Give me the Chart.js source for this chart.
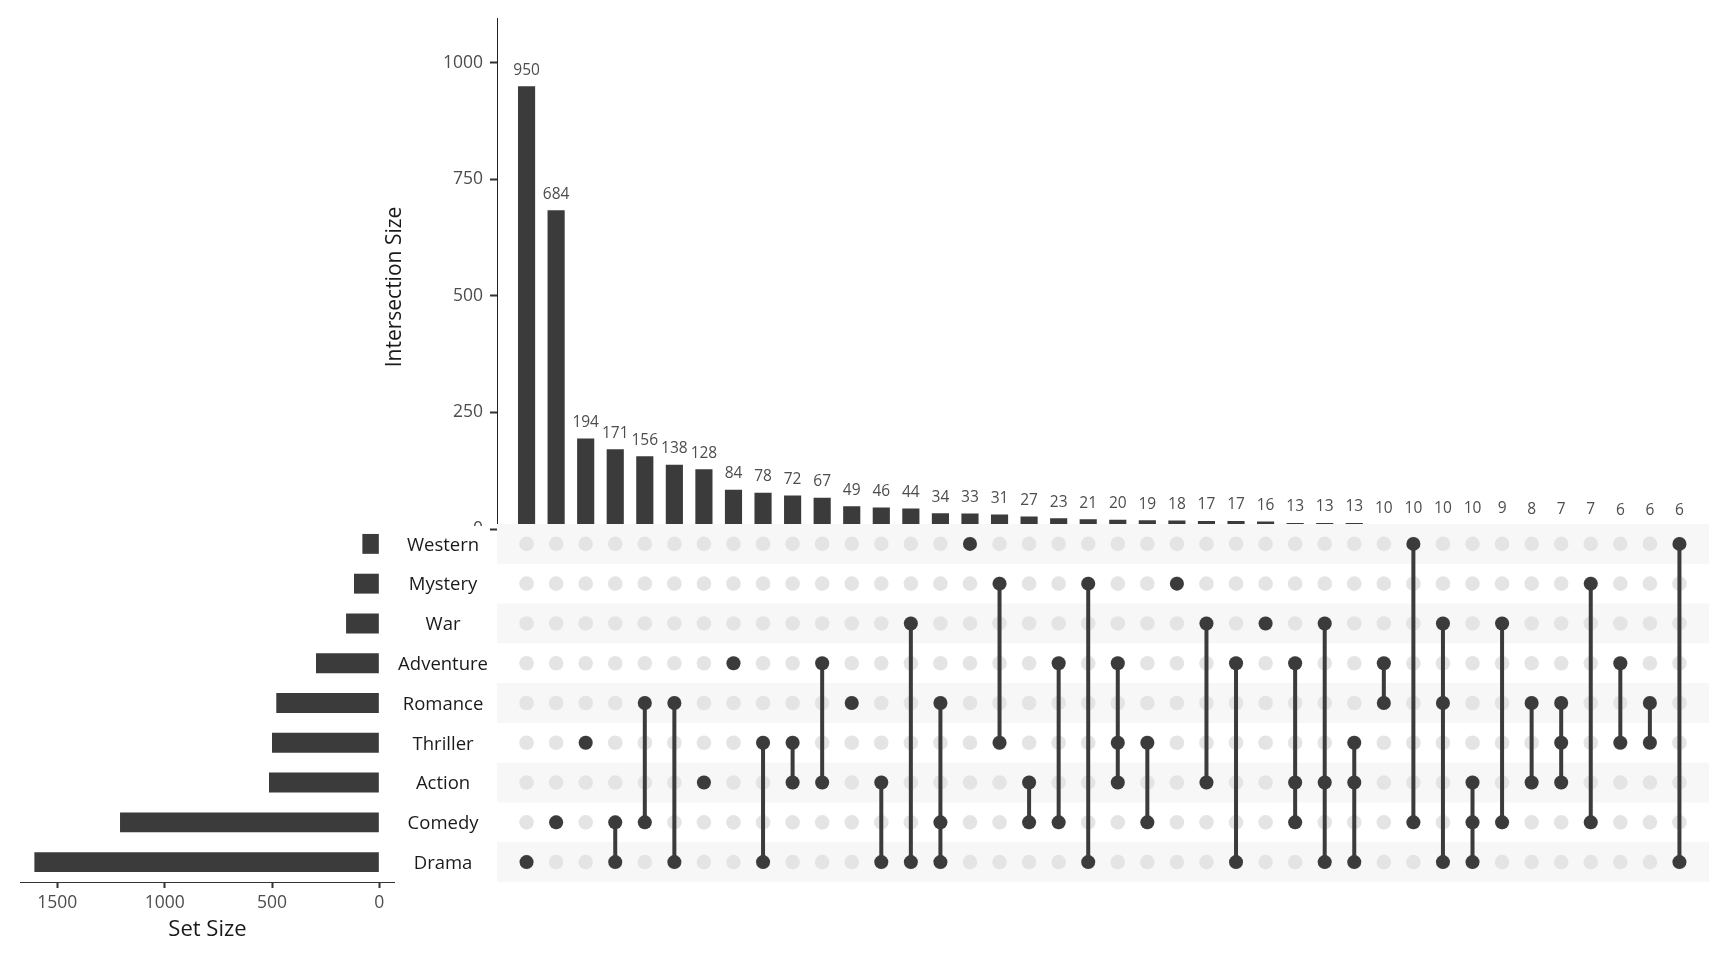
<!DOCTYPE html>
<html lang="en">

<head>
    <meta charset="UTF-8">
    <title>UpSet | Movie genres</title>
    <script src="https://cdn.jsdelivr.net/npm/chart.js"></script>
    <style>
        body {
            margin: 0;
            background: #fff;
            width: 1728px;
            height: 960px;
            position: relative;
            overflow: hidden;
        }

        canvas {
            position: absolute;
        }

        #graficoSets {
            left: 0;
            top: 524px;
        }

        #graficoBarras {
            left: 380px;
            top: 0;
        }

        #graficoMatriz {
            left: 380px;
            top: 524px;
        }
    </style>
</head>

<body>
    <canvas id="graficoSets" width="395" height="436"></canvas>
    <canvas id="graficoBarras" width="1348" height="540"></canvas>
    <canvas id="graficoMatriz" width="1348" height="360"></canvas>
</body>

<script>
    // sets, top to bottom
    const sets = ['Western', 'Mystery', 'War', 'Adventure', 'Romance', 'Thriller', 'Action', 'Comedy', 'Drama'];
    const setSizes = [79, 118, 155, 295, 480, 500, 514, 1208, 1607];

    // intersections, left to right
    const intersectionSizes = [950, 684, 194, 171, 156, 138, 128, 84, 78, 72, 67, 49, 46, 44, 34, 33, 31, 27, 23, 21,
        20, 19, 18, 17, 17, 16, 13, 13, 13, 10, 10, 10, 10, 9, 8, 7, 7, 6, 6, 6];
    const intersectionSets = [
        ['Drama'], ['Comedy'], ['Thriller'], ['Comedy', 'Drama'], ['Romance', 'Comedy'],
        ['Romance', 'Drama'], ['Action'], ['Adventure'], ['Thriller', 'Drama'], ['Thriller', 'Action'],
        ['Adventure', 'Action'], ['Romance'], ['Action', 'Drama'], ['War', 'Drama'], ['Romance', 'Comedy', 'Drama'],
        ['Western'], ['Mystery', 'Thriller'], ['Action', 'Comedy'], ['Adventure', 'Comedy'], ['Mystery', 'Drama'],
        ['Adventure', 'Thriller', 'Action'], ['Thriller', 'Comedy'], ['Mystery'], ['War', 'Action'], ['Adventure', 'Drama'],
        ['War'], ['Adventure', 'Action', 'Comedy'], ['War', 'Action', 'Drama'], ['Thriller', 'Action', 'Drama'], ['Adventure', 'Romance'],
        ['Western', 'Comedy'], ['War', 'Romance', 'Drama'], ['Action', 'Comedy', 'Drama'], ['War', 'Comedy'], ['Romance', 'Action'],
        ['Romance', 'Thriller', 'Action'], ['Mystery', 'Comedy'], ['Adventure', 'Thriller'], ['Romance', 'Thriller'], ['Western', 'Drama']
    ];

    const intersectionTicks = [0, 250, 500, 750, 1000];
    const setSizeTicks = [0, 500, 1000, 1500];

    const escuro = '#3b3b3b';
    const fonte = 'Open Sans';

    // numbers above the intersection bars
    const rotuloBarras = {
        id: 'rotuloBarras',
        afterDatasetsDraw(chart) {
            const ctx = chart.ctx;
            ctx.save();
            ctx.font = '15.5px "' + fonte + '"';
            ctx.fillStyle = '#4d4d4d';
            ctx.textAlign = 'center';
            ctx.textBaseline = 'middle';
            chart.getDatasetMeta(0).data.forEach((bar, i) => {
                ctx.fillText(intersectionSizes[i], bar.x, bar.y - 16);
            });
            ctx.restore();
        }
    };

    const tituloY = {
        id: 'tituloY',
        afterDraw(chart) {
            const ctx = chart.ctx;
            ctx.save();
            ctx.translate(15, 287);
            ctx.rotate(-Math.PI / 2);
            ctx.font = '21px "' + fonte + '"';
            ctx.fillStyle = '#1a1a1a';
            ctx.textAlign = 'center';
            ctx.textBaseline = 'middle';
            ctx.fillText('Intersection Size', 0, 0);
            ctx.restore();
        }
    };

    // striped rows behind the matrix
    const faixas = {
        id: 'faixas',
        beforeDraw(chart) {
            // the matrix panel hides the lower half of the "0" label
            const ctx = chart.ctx;
            ctx.save();
            ctx.fillStyle = '#fff';
            ctx.fillRect(60, 2, 49, 16);
            ctx.restore();
        },
        beforeDatasetsDraw(chart) {
            const { ctx, chartArea, scales: { y } } = chart;
            const h = y.getPixelForValue(1) - y.getPixelForValue(0);
            ctx.save();
            ctx.fillStyle = '#f7f7f7';
            sets.forEach((s, i) => {
                if (i % 2 === 0) {
                    const c = y.getPixelForValue(i);
                    ctx.fillRect(chartArea.left, c - h / 2, chartArea.right - chartArea.left, h);
                }
            });
            ctx.restore();
        }
    };

    const semPadding = (s) => {
        s.paddingTop = 0;
        s.paddingBottom = 0;
        s.paddingLeft = 0;
        s.paddingRight = 0;
    };

    const semVirgula = (v) => String(v);

    // intersection size bars
    new Chart(document.getElementById('graficoBarras'), {
        type: 'bar',
        data: {
            datasets: [{
                data: intersectionSizes.map((v, i) => ({ x: i + 1, y: v })),
                backgroundColor: escuro,
                barPercentage: 0.58,
                categoryPercentage: 1
            }]
        },
        options: {
            responsive: false,
            animation: false,
            layout: { autoPadding: false, padding: { left: 0, right: 19, top: 18.7, bottom: 11 } },
            plugins: { legend: { display: false }, tooltip: { enabled: false } },
            scales: {
                x: { type: 'linear', min: 0, max: 41, offset: false, display: false },
                y: {
                    min: 0,
                    max: 1095,
                    afterBuildTicks: (s) => { s.ticks = intersectionTicks.map(v => ({ value: v })); },
                    afterFit: (s) => { s.width = 117; semPadding(s); },
                    grid: { display: true, drawOnChartArea: false, drawTicks: true, tickLength: 7, tickWidth: 2, tickColor: '#333' },
                    border: { display: true, color: '#222', width: 1 },
                    ticks: { font: { family: fonte, size: 17.5 }, color: '#4d4d4d', padding: 7, callback: semVirgula }
                }
            }
        },
        plugins: [rotuloBarras, tituloY]
    });

    // membership matrix
    const ativos = intersectionSets.map((membros, i) => ({
        data: sets.filter(s => membros.includes(s)).map(s => ({ x: i + 1, y: s })),
        showLine: true,
        borderColor: escuro,
        borderWidth: 4,
        pointRadius: 7,
        pointBackgroundColor: escuro,
        pointBorderWidth: 0,
        order: 0
    }));
    const inativos = {
        data: intersectionSets.flatMap((m, i) => sets.map(s => ({ x: i + 1, y: s }))),
        showLine: false,
        pointRadius: 7.3,
        pointBackgroundColor: '#e4e4e4',
        pointBorderWidth: 0,
        order: 1
    };

    new Chart(document.getElementById('graficoMatriz'), {
        type: 'scatter',
        data: { datasets: ativos.concat([inativos]) },
        options: {
            responsive: false,
            animation: false,
            layout: { autoPadding: false, padding: { left: 0, right: 19, top: 0, bottom: 2 } },
            plugins: { legend: { display: false }, tooltip: { enabled: false } },
            scales: {
                x: { type: 'linear', min: 0, max: 41, display: false },
                y: {
                    type: 'category',
                    labels: sets,
                    offset: true,
                    afterFit: (s) => { s.width = 117; semPadding(s); },
                    grid: { display: false },
                    border: { display: false },
                    ticks: { font: { family: fonte, size: 18.5 }, color: '#1a1a1a', padding: 1, crossAlign: 'center', labelOffset: 1.5 }
                }
            }
        },
        plugins: [faixas]
    });

    // set size bars
    new Chart(document.getElementById('graficoSets'), {
        type: 'bar',
        data: {
            labels: sets,
            datasets: [{
                data: setSizes,
                backgroundColor: escuro,
                barPercentage: 0.5,
                categoryPercentage: 1
            }]
        },
        options: {
            indexAxis: 'y',
            responsive: false,
            animation: false,
            layout: { autoPadding: false, padding: { left: 20, right: 0, top: 0, bottom: 0 } },
            plugins: { legend: { display: false }, tooltip: { enabled: false } },
            scales: {
                x: {
                    reverse: true,
                    min: -73,
                    max: 1674,
                    afterBuildTicks: (s) => { s.ticks = setSizeTicks.map(v => ({ value: v })); },
                    afterFit: (s) => { s.height = 78; semPadding(s); },
                    grid: { display: true, drawOnChartArea: false, drawTicks: true, tickLength: 6, tickWidth: 2, tickColor: '#333' },
                    border: { display: true, color: '#333', width: 1 },
                    ticks: { font: { family: fonte, size: 17.5 }, color: '#4d4d4d', padding: 5, callback: semVirgula },
                    title: {
                        display: true,
                        text: 'Set Size',
                        font: { family: fonte, size: 22 },
                        color: '#1a1a1a',
                        padding: { top: 0, bottom: 17 }
                    }
                },
                y: { display: false, offset: true }
            }
        }
    });
</script>

</html>
